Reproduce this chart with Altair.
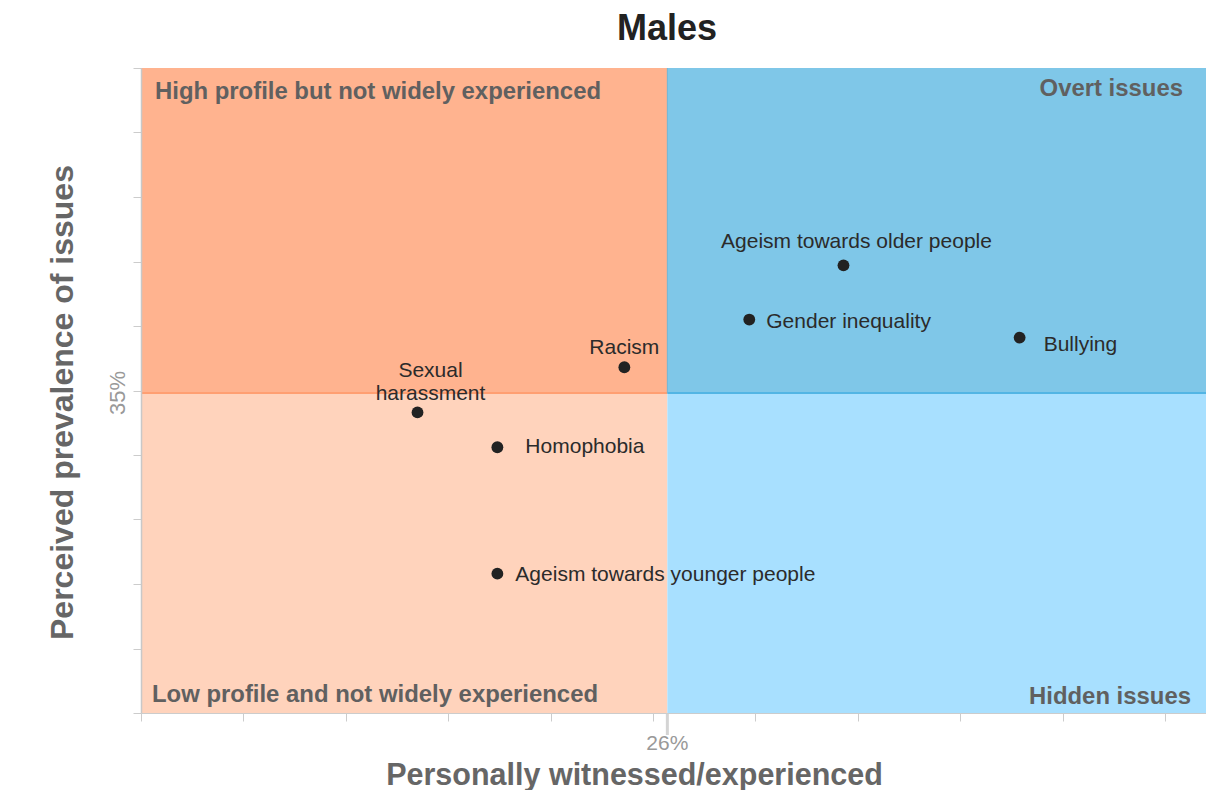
import altair as alt
import pandas as pd

# ---------------- data ----------------
issues = ["Racism", "Sexual harassment", "Homophobia", "Ageism towards younger people",
          "Ageism towards older people", "Gender inequality", "Bullying"]
witnessed = [23.6, 13.5, 17.4, 17.4, 34.3, 29.7, 42.9]     # x (%)
prevalence = [36.8, 33.3, 30.6, 20.8, 44.7, 40.5, 39.1]    # y (%)

x_avg = 25.7
x_avg_label = "26%"
y_avg = 34.8
y_avg_label = "35%"

x_domain = [0, 52]
y_domain = [10, 60]
x_ticks = list(range(0, 51, 5))
y_ticks = list(range(10, 61, 5))

chart_title = "Males"
x_title = "Personally witnessed/experienced"
y_title = "Perceived prevalence of issues"

quadrant_names = ["High profile but not widely experienced", "Overt issues",
                  "Low profile and not widely experienced", "Hidden issues"]
quadrant_colors = ["#FFB38F", "#7FC7E8", "#FFD3BC", "#A8E0FF"]

# ---------------- layout / style ----------------
W, H = 1065, 645
FONT = "Liberation Sans"

pts = pd.DataFrame({"issue": issues, "x": witnessed, "y": prevalence})

quad = pd.DataFrame({
    "name": quadrant_names,
    "color": quadrant_colors,
    "x": [x_domain[0], x_avg, x_domain[0], x_avg],
    "x2": [x_avg, x_domain[1], x_avg, x_domain[1]],
    "y": [y_avg, y_avg, y_domain[0], y_domain[0]],
    "y2": [y_domain[1], y_domain[1], y_avg, y_avg],
})

xs = alt.Scale(domain=x_domain, nice=False, zero=False)
ys = alt.Scale(domain=y_domain, nice=False, zero=False)

x_axis = alt.Axis(values=x_ticks, labels=False, grid=False, domainColor="#cccccc",
                  tickColor="#cccccc", tickSize=8, domainWidth=1, zindex=1,
                  title=x_title, titleFont=FONT,
                  titleFontSize=30.5, titleFontWeight="bold", titleColor="#666666",
                  titleX=493, titleY=71, titleAlign="center", titleBaseline="alphabetic")
y_axis = alt.Axis(values=y_ticks, labels=False, grid=False, domainColor="#c8c8c8",
                  tickColor="#cccccc", tickSize=8, domainWidth=1.5, zindex=1,
                  title=y_title, titleFont=FONT,
                  titleFontSize=32, titleFontWeight="bold", titleColor="#666666",
                  titleAngle=270, titleX=-79, titleY=334, titleAlign="center",
                  titleBaseline="middle")


def X(field):
    return alt.X(field, scale=xs, axis=x_axis)


def Y(field):
    return alt.Y(field, scale=ys, axis=y_axis)


# quadrant backgrounds
rects = alt.Chart(quad).mark_rect().encode(
    x=X("x:Q"), x2="x2:Q", y=Y("y:Q"), y2="y2:Q",
    color=alt.Color("color:N", scale=None, legend=None),
)

# boundary line between top and bottom halves
bound = pd.DataFrame({"x": [x_domain[0], x_avg], "x2": [x_avg, x_domain[1]],
                      "y": [y_avg, y_avg], "c": ["#FF9F72", "#52B5E4"]})
hline = alt.Chart(bound).mark_rule(strokeWidth=2).encode(
    x=X("x:Q"), x2="x2:Q", y=Y("y:Q"),
    color=alt.Color("c:N", scale=None, legend=None),
)

vline = alt.Chart(pd.DataFrame({"x": [x_avg], "y": [y_avg], "y2": [y_domain[1]]})).mark_rule(
    strokeWidth=1, color="#6FB4D4").encode(
    x=X("x:Q"), y=Y("y:Q"), y2="y2:Q",
)

# long tick marking the x average, and the two average labels
avg_df = pd.DataFrame({"x": [x_avg], "y": [y_avg], "xl": [x_avg_label], "yl": [y_avg_label],
                       "t": [chart_title], "xm": [(x_domain[0] + x_domain[1]) / 2]})
xtick = alt.Chart(avg_df).mark_rule(strokeWidth=3, color="#d4d4d4").encode(
    x=X("x:Q"), y=alt.value(H), y2=alt.value(H + 22),
)
xlab = alt.Chart(avg_df).mark_text(font=FONT, fontSize=21, color="#999999",
                                   baseline="middle", align="center").encode(
    x=X("x:Q"), y=alt.value(H + 31), text="xl:N",
)
ylab = alt.Chart(avg_df).mark_text(font=FONT, fontSize=22, color="#999999",
                                   baseline="middle", align="center", angle=270).encode(
    x=alt.value(-23), y=Y("y:Q"), text="yl:N",
)

# chart title
title = alt.Chart(avg_df).mark_text(font=FONT, fontSize=36, fontWeight="bold", color="#222222",
                                    baseline="alphabetic", align="center", dx=-6.5).encode(
    x=X("xm:Q"), y=alt.value(-28), text="t:N",
)

# quadrant titles
quad_layers = []
quad_style = [
    ("x", "y2", "left", 14, 24),
    ("x2", "y2", "right", -23, 21),
    ("x", "y", "left", 11, -18),
    ("x2", "y", "right", -15, -16),
]
for name, (xf, yf, al, dx, dy) in zip(quadrant_names, quad_style):
    quad_layers.append(
        alt.Chart(quad).transform_filter(alt.datum.name == name).mark_text(
            font=FONT, fontSize=23.9, fontWeight="bold", color="#606060",
            align=al, baseline="middle", dx=dx, dy=dy).encode(
            x=X(f"{xf}:Q"), y=Y(f"{yf}:Q"), text="name:N",
        )
    )

# points
points = alt.Chart(pts).mark_circle(size=140, color="#222222", opacity=1).encode(
    x=X("x:Q"), y=Y("y:Q"),
)

# point labels
label_style = {
    "Racism": dict(align="center", dx=0, dy=-19),
    "Sexual harassment": dict(align="center", dx=13, dy=-41, lineBreak=" ", lineHeight=23),
    "Homophobia": dict(align="left", dx=28, dy=0),
    "Ageism towards younger people": dict(align="left", dx=18, dy=1),
    "Ageism towards older people": dict(align="center", dx=13, dy=-23),
    "Gender inequality": dict(align="left", dx=17, dy=2),
    "Bullying": dict(align="left", dx=24, dy=7),
}
label_layers = []
for name in issues:
    st = label_style[name]
    label_layers.append(
        alt.Chart(pts).transform_filter(alt.datum.issue == name).mark_text(
            font=FONT, fontSize=21, color="#2b2b2b", baseline="middle", **st).encode(
            x=X("x:Q"), y=Y("y:Q"), text="issue:N",
        )
    )

chart = alt.layer(rects, hline, vline, xtick, xlab, ylab, title, *quad_layers, points,
                  *label_layers).properties(
    width=W, height=H,
    autosize=alt.AutoSizeParams(type="none"),
    padding={"left": 133, "top": 60, "right": 0, "bottom": 77},
    background="white",
).configure_view(strokeWidth=0)

chart.save("out.html", embed_options={"renderer": "svg", "actions": False})
